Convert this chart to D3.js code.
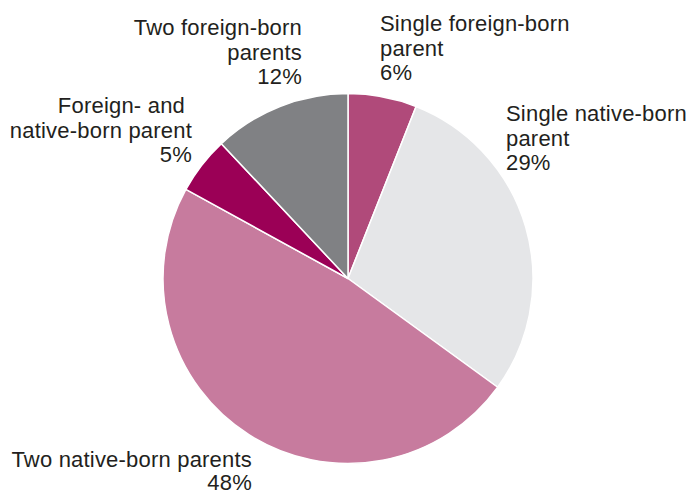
<!DOCTYPE html>
<html>
<head>
<meta charset="utf-8">
<script src="https://cdn.jsdelivr.net/npm/d3@7/dist/d3.min.js"></script>
<style>
  html, body { margin: 0; padding: 0; background: #fff; }
  svg { display: block; }
  text { font-family: "Liberation Sans", Arial, sans-serif; font-size: 22px; fill: #231f20; letter-spacing: 0.2px; }
</style>
</head>
<body>
<svg id="chart" width="692" height="495"></svg>
<script>
// ---- data ----
const categories = [
  "Single foreign-born parent",
  "Single native-born parent",
  "Two native-born parents",
  "Foreign- and native-born parent",
  "Two foreign-born parents"
];
const values = [6, 29, 48, 5, 12];
const labelLines = [
  ["Single foreign-born", "parent"],
  ["Single native-born", "parent"],
  ["Two native-born parents"],
  ["Foreign- and", "native-born parent"],
  ["Two foreign-born", "parents"]
];

// ---- layout / style ----
const colors = ["#b04a7a", "#e5e6e8", "#c77b9e", "#9b0056", "#808184"];
const cx = 348, cy = 278.5, radius = 185;
const lineH = 24.5;
const labelPos = [
  { x: 380, y: 31, anchor: "start", lh: 24.5 },
  { x: 506, y: 121, anchor: "start", lh: 24.5 },
  { x: 252, y: 467, anchor: "end", lh: 23 },
  { x: 192, y: 113, anchor: "end", lh: 24.5 },
  { x: 302, y: 35, anchor: "end", lh: 24.5 }
];

const svg = d3.select("#chart");
const data = categories.map((c, i) => ({ cat: c, value: values[i], lines: labelLines[i], i }));

const pie = d3.pie().sort(null).value(d => d.value);
const arc = d3.arc().innerRadius(0).outerRadius(radius);

svg.append("g")
  .attr("transform", `translate(${cx},${cy})`)
  .selectAll("path")
  .data(pie(data))
  .join("path")
  .attr("d", arc)
  .attr("fill", d => colors[d.data.i])
  .attr("stroke", "#fff")
  .attr("stroke-width", 1.5)
  .attr("stroke-linejoin", "round");

const labels = svg.append("g").selectAll("text")
  .data(data)
  .join("text")
  .attr("text-anchor", d => labelPos[d.i].anchor)
  .attr("x", d => labelPos[d.i].x)
  .attr("y", d => labelPos[d.i].y);

labels.each(function(d) {
  const t = d3.select(this);
  const p = labelPos[d.i];
  const all = d.lines.concat([d.value + "%"]);
  all.forEach((line, k) => {
    const ts = t.append("tspan")
      .attr("x", p.x)
      .attr("dy", k === 0 ? 0 : p.lh)
      .text(line);
    if (line === "Foreign- and") ts.attr("dx", -7);
  });
});
</script>
</body>
</html>
